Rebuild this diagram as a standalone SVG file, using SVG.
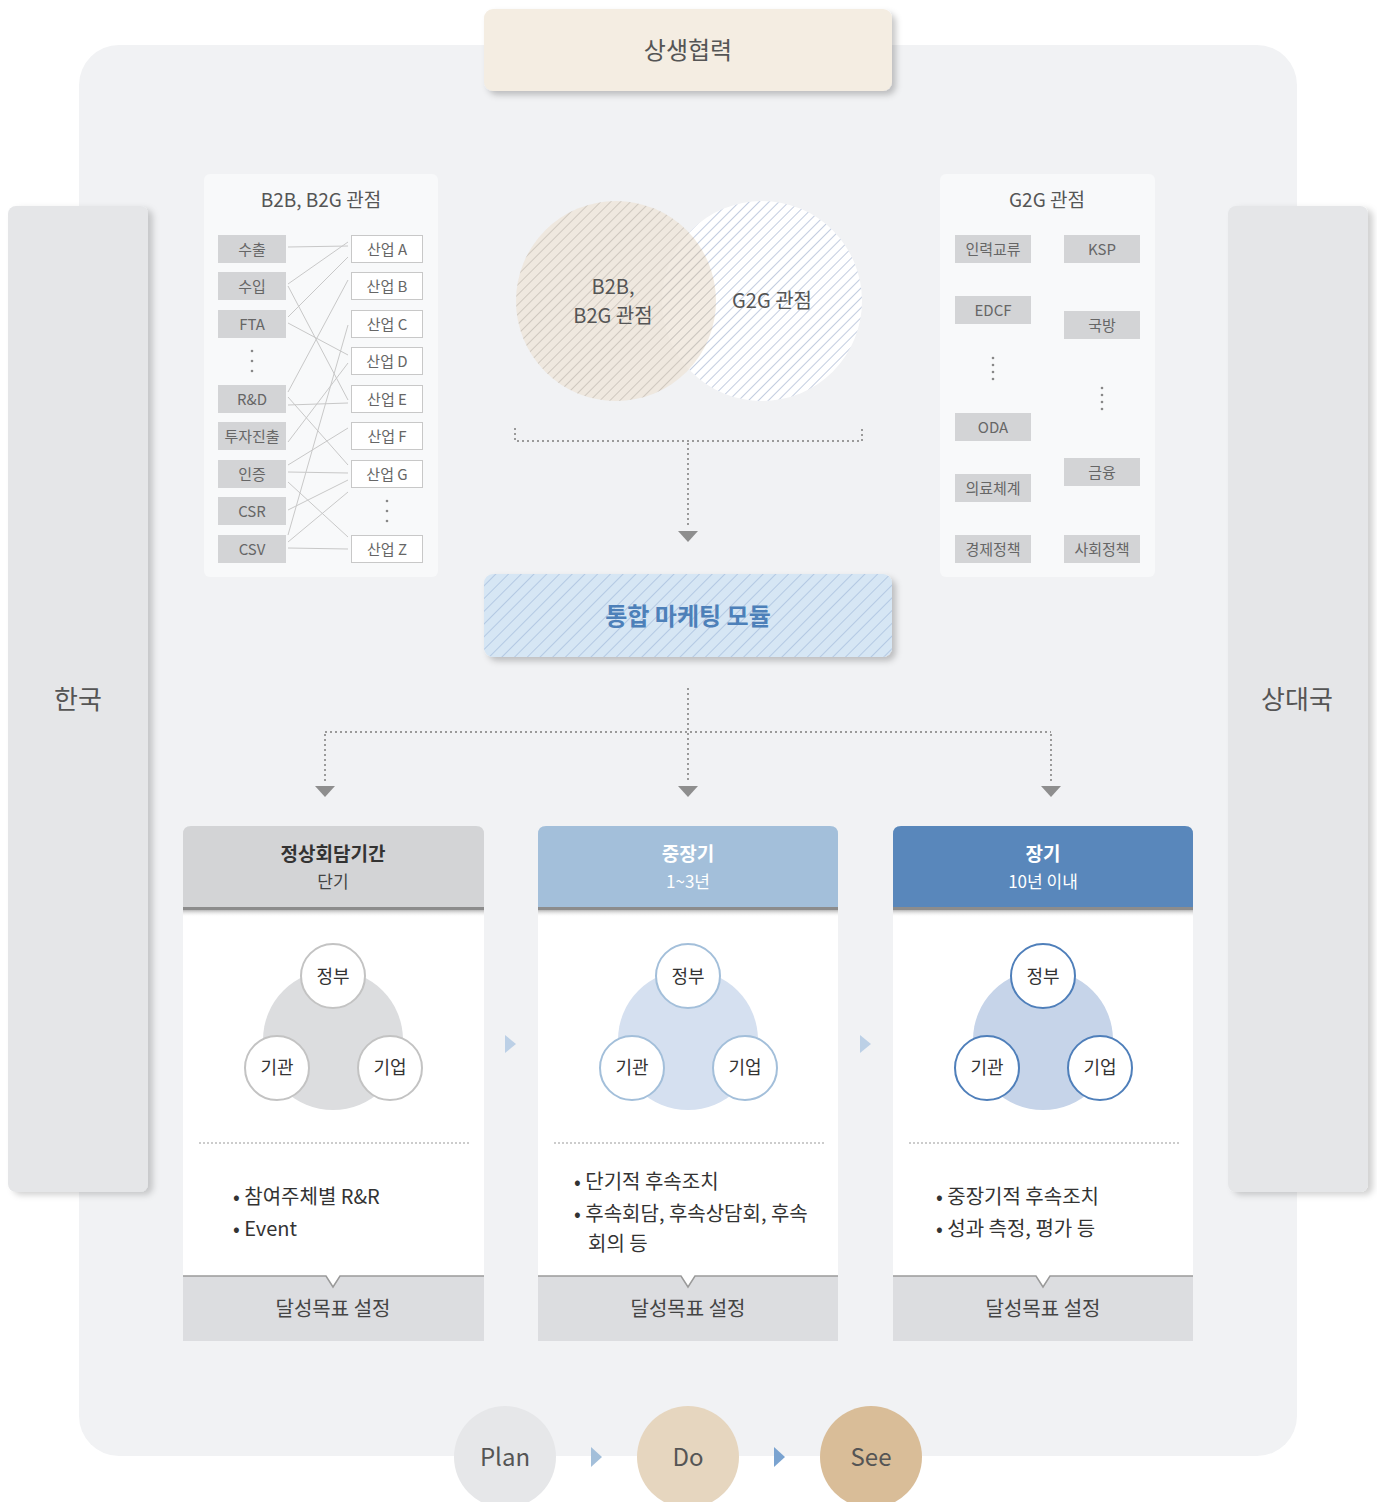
<svg xmlns="http://www.w3.org/2000/svg" width="1377" height="1502" viewBox="0 0 1377 1502">
<defs>
<style>
text{font-family:"Noto Sans CJK KR","Noto Sans",sans-serif;fill:#555;text-anchor:middle;dominant-baseline:central}
.t24{font-size:24px}
.t26{font-size:26px}
.t19{font-size:19px}
.t20{font-size:20px;fill:#333}
.it{font-size:15px;fill:#666}
.lbox{fill:#d3d4d6}
.rbox{fill:#fff;stroke:#c8c8c8;stroke-width:1}
.gbox{fill:#d3d4d6}
.ln{stroke:#c8c8c8;stroke-width:1;fill:none}
.dot{stroke:#9a9a9a;stroke-width:2;stroke-dasharray:2 3;fill:none}
.dotv{fill:#888}
.sep{stroke:#ccc;stroke-width:2;stroke-dasharray:2 2;fill:none}
.arr{fill:#8e8e8e}
.bul{font-size:20px;fill:#333;text-anchor:start}
.foot{fill:#dcdde0}
.footln{stroke:#9a9a9a;stroke-width:1.5;fill:none}
.cir{fill:#fff;stroke-width:2}
.ctext{font-size:18px;fill:#333}
</style>
<filter id="sh" x="-10%" y="-20%" width="125%" height="150%">
<feDropShadow dx="4" dy="4" stdDeviation="3" flood-color="#000" flood-opacity="0.22"/>
</filter>
<filter id="sh2" x="-10%" y="-5%" width="130%" height="115%">
<feDropShadow dx="5" dy="3" stdDeviation="3" flood-color="#000" flood-opacity="0.18"/>
</filter>
<pattern id="hatchG" width="7" height="7" patternUnits="userSpaceOnUse" patternTransform="rotate(45)">
<rect x="0" y="0" width="1" height="7" fill="#b9b3aa" fill-opacity="0.6"/>
</pattern>
<pattern id="hatchB" width="7" height="7" patternUnits="userSpaceOnUse" patternTransform="rotate(45)">
<rect x="0" y="0" width="1" height="7" fill="#c3cde0"/>
</pattern>
<pattern id="hatchM" width="9" height="9" patternUnits="userSpaceOnUse" patternTransform="rotate(45)">
<rect x="0" y="0" width="1" height="9" fill="#b4c9e3"/>
</pattern>
<linearGradient id="hsh" x1="0" y1="0" x2="0" y2="1">
<stop offset="0" stop-color="#b8b8b8"/>
<stop offset="1" stop-color="#fff" stop-opacity="0"/>
</linearGradient>
</defs>

<rect width="1377" height="1502" fill="#fff"/>
<rect id="background" x="79" y="45" width="1218" height="1411" rx="40" fill="#f1f2f4"/>

<g id="node-sangsaeng">
<rect x="484" y="9" width="408" height="82" rx="9" fill="#f4ede2" filter="url(#sh)"/>
<text class="t24" x="688" y="48">상생협력</text>
</g>

<g id="node-korea">
<rect x="8" y="206" width="140" height="986" rx="8" fill="#e5e6e8" filter="url(#sh2)"/>
<text class="t26" x="78" y="697">한국</text>
</g>
<g id="node-partner">
<rect x="1228" y="206" width="140" height="986" rx="8" fill="#e5e6e8" filter="url(#sh2)"/>
<text class="t26" x="1297" y="697">상대국</text>
</g>

<g id="node-b2b">
<rect x="204" y="174" width="234" height="403" rx="6" fill="#f8f9fa"/>
<text class="t19" x="321" y="198">B2B, B2G 관점</text>
<rect class="lbox" x="218" y="235" width="68" height="28"/><text class="it" x="252" y="248">수출</text>
<rect class="lbox" x="218" y="272" width="68" height="28"/><text class="it" x="252" y="285">수입</text>
<rect class="lbox" x="218" y="310" width="68" height="28"/><text class="it" x="252" y="323">FTA</text>
<circle class="dotv" cx="252" cy="351" r="1.3"/><circle class="dotv" cx="252" cy="361" r="1.3"/><circle class="dotv" cx="252" cy="371" r="1.3"/>
<rect class="lbox" x="218" y="385" width="68" height="28"/><text class="it" x="252" y="398">R&amp;D</text>
<rect class="lbox" x="218" y="422" width="68" height="28"/><text class="it" x="252" y="435">투자진출</text>
<rect class="lbox" x="218" y="460" width="68" height="28"/><text class="it" x="252" y="473">인증</text>
<rect class="lbox" x="218" y="497" width="68" height="28"/><text class="it" x="252" y="510">CSR</text>
<rect class="lbox" x="218" y="535" width="68" height="28"/><text class="it" x="252" y="548">CSV</text>

<rect class="rbox" x="351.5" y="235.5" width="71" height="27"/><text class="it" x="387" y="248">산업 A</text>
<rect class="rbox" x="351.5" y="272.5" width="71" height="27"/><text class="it" x="387" y="285">산업 B</text>
<rect class="rbox" x="351.5" y="310.5" width="71" height="27"/><text class="it" x="387" y="323">산업 C</text>
<rect class="rbox" x="351.5" y="347.5" width="71" height="27"/><text class="it" x="387" y="360">산업 D</text>
<rect class="rbox" x="351.5" y="385.5" width="71" height="27"/><text class="it" x="387" y="398">산업 E</text>
<rect class="rbox" x="351.5" y="422.5" width="71" height="27"/><text class="it" x="387" y="435">산업 F</text>
<rect class="rbox" x="351.5" y="460.5" width="71" height="27"/><text class="it" x="387" y="473">산업 G</text>
<circle class="dotv" cx="387" cy="501" r="1.3"/><circle class="dotv" cx="387" cy="511" r="1.3"/><circle class="dotv" cx="387" cy="521" r="1.3"/>
<rect class="rbox" x="351.5" y="535.5" width="71" height="27"/><text class="it" x="387" y="548">산업 Z</text>
</g>

<g id="connectors">
<g id="b2b-lines">
<path class="ln" d="M288 247 L348 246"/>
<path class="ln" d="M288 284 L348 242"/>
<path class="ln" d="M288 286 L348 400"/>
<path class="ln" d="M288 317 L348 257"/>
<path class="ln" d="M288 323 L348 355"/>
<path class="ln" d="M288 392 L348 280"/>
<path class="ln" d="M288 405 L348 403"/>
<path class="ln" d="M288 397 L348 465"/>
<path class="ln" d="M288 442 L348 363"/>
<path class="ln" d="M288 465 L348 428"/>
<path class="ln" d="M288 472 L348 473"/>
<path class="ln" d="M288 482 L348 537"/>
<path class="ln" d="M288 510 L348 480"/>
<path class="ln" d="M288 535 L348 325"/>
<path class="ln" d="M288 542 L348 492"/>
<path class="ln" d="M288 548 L348 549"/>
</g>
<path class="dot" d="M515 428 L515 441 L862 441 L862 428"/>
<path class="dot" d="M688 443 L688 528"/>
<path class="arr" d="M678 531 L698 531 L688 542 Z"/>
<path class="dot" d="M688 688 L688 783"/>
<path class="dot" d="M325 732 L1051 732"/>
<path class="dot" d="M325 734 L325 783"/>
<path class="dot" d="M1051 734 L1051 783"/>
<path class="arr" d="M315 786 L335 786 L325 797 Z"/>
<path class="arr" d="M678 786 L698 786 L688 797 Z"/>
<path class="arr" d="M1041 786 L1061 786 L1051 797 Z"/>
<path d="M505 1035 L516 1044 L505 1053 Z" fill="#bcd0e6"/>
<path d="M860 1035 L871 1044 L860 1053 Z" fill="#bcd0e6"/>
<path d="M591 1447 L602 1457 L591 1467 Z" fill="#a3bfda"/>
<path d="M774 1447 L785 1457 L774 1467 Z" fill="#7aa3d0"/>
</g>

<g id="node-venn">
<circle cx="762" cy="301" r="100" fill="#fff"/>
<circle cx="762" cy="301" r="100" fill="url(#hatchB)"/>
<circle cx="616" cy="301" r="100" fill="#ede4d8" fill-opacity="0.75"/>
<circle cx="616" cy="301" r="100" fill="url(#hatchG)"/>
<text class="t20" x="613" y="285" style="fill:#555">B2B,</text>
<text class="t20" x="613" y="314" style="fill:#555">B2G 관점</text>
<text class="t20" x="772" y="299" style="fill:#555">G2G 관점</text>
</g>

<g id="node-g2g">
<rect x="940" y="174" width="215" height="403" rx="6" fill="#f8f9fa"/>
<text class="t19" x="1047" y="198">G2G 관점</text>
<rect class="gbox" x="955" y="235" width="76" height="28"/><text class="it" x="993" y="248">인력교류</text>
<rect class="gbox" x="955" y="296" width="76" height="28"/><text class="it" x="993" y="309">EDCF</text>
<circle class="dotv" cx="993" cy="358" r="1.3"/><circle class="dotv" cx="993" cy="365" r="1.3"/><circle class="dotv" cx="993" cy="372" r="1.3"/><circle class="dotv" cx="993" cy="379" r="1.3"/>
<rect class="gbox" x="955" y="413" width="76" height="28"/><text class="it" x="993" y="426">ODA</text>
<rect class="gbox" x="955" y="474" width="76" height="28"/><text class="it" x="993" y="487">의료체계</text>
<rect class="gbox" x="955" y="535" width="76" height="28"/><text class="it" x="993" y="548">경제정책</text>
<rect class="gbox" x="1064" y="235" width="76" height="28"/><text class="it" x="1102" y="248">KSP</text>
<rect class="gbox" x="1064" y="311" width="76" height="28"/><text class="it" x="1102" y="324">국방</text>
<circle class="dotv" cx="1102" cy="388" r="1.3"/><circle class="dotv" cx="1102" cy="395" r="1.3"/><circle class="dotv" cx="1102" cy="402" r="1.3"/><circle class="dotv" cx="1102" cy="409" r="1.3"/>
<rect class="gbox" x="1064" y="458" width="76" height="28"/><text class="it" x="1102" y="471">금융</text>
<rect class="gbox" x="1064" y="535" width="76" height="28"/><text class="it" x="1102" y="548">사회정책</text>
</g>

<g id="node-module">
<rect x="484" y="574" width="408" height="83" rx="9" fill="#d6e6f4" filter="url(#sh)"/>
<rect x="484" y="574" width="408" height="83" rx="9" fill="url(#hatchM)"/>
<text x="688" y="614" style="font-size:24px;font-weight:700;fill:#4d80b9">통합 마케팅 모듈</text>
</g>

<g id="node-short">
<path d="M183 908 L183 834 Q183 826 191 826 L476 826 Q484 826 484 834 L484 908 Z" fill="#d3d4d6"/>
<rect x="183" y="908" width="301" height="368" fill="#fff"/>
<rect x="183" y="907" width="301" height="3" fill="#8c8c8c"/>
<rect x="183" y="910" width="301" height="7" fill="url(#hsh)"/>
<text x="333" y="852" style="font-size:19px;font-weight:700;fill:#333">정상회담기간</text>
<text x="333" y="880" style="font-size:17px;fill:#444">단기</text>
<circle cx="333" cy="1040" r="70" fill="#dcdddf"/>
<circle class="cir" cx="333" cy="976" r="32" stroke="#c3c3c3"/>
<circle class="cir" cx="277" cy="1068" r="32" stroke="#c3c3c3"/>
<circle class="cir" cx="390" cy="1068" r="32" stroke="#c3c3c3"/>
<text class="ctext" x="333" y="975">정부</text>
<text class="ctext" x="277" y="1066">기관</text>
<text class="ctext" x="390" y="1066">기업</text>
<path class="sep" d="M199 1143 L469 1143"/>
<text class="bul" x="233" y="1195">• 참여주체별 R&amp;R</text>
<text class="bul" x="233" y="1227">• Event</text>
<rect class="foot" x="183" y="1276" width="301" height="65"/>
<path d="M326 1276 L333 1287 L340 1276 Z" fill="#fff"/>
<path class="footln" d="M183 1276 L326 1276 L333 1287 L340 1276 L484 1276"/>
<text x="333" y="1307" style="font-size:20px;fill:#444">달성목표 설정</text>
</g>

<g id="node-mid">
<path d="M538 908 L538 834 Q538 826 546 826 L830 826 Q838 826 838 834 L838 908 Z" fill="#a3bfda"/>
<rect x="538" y="908" width="300" height="368" fill="#fff"/>
<rect x="538" y="907" width="300" height="3" fill="#8c8c8c"/>
<rect x="538" y="910" width="300" height="7" fill="url(#hsh)"/>
<text x="688" y="852" style="font-size:19px;font-weight:700;fill:#fff">중장기</text>
<text x="688" y="880" style="font-size:17px;fill:#fff">1~3년</text>
<circle cx="688" cy="1040" r="70" fill="#d5e0f0"/>
<circle class="cir" cx="688" cy="976" r="32" stroke="#a3bfda"/>
<circle class="cir" cx="632" cy="1068" r="32" stroke="#a3bfda"/>
<circle class="cir" cx="745" cy="1068" r="32" stroke="#a3bfda"/>
<text class="ctext" x="688" y="975">정부</text>
<text class="ctext" x="632" y="1066">기관</text>
<text class="ctext" x="745" y="1066">기업</text>
<path class="sep" d="M554 1143 L824 1143"/>
<text class="bul" x="574" y="1180">• 단기적 후속조치</text>
<text class="bul" x="574" y="1212">• 후속회담, 후속상담회, 후속</text>
<text class="bul" x="588" y="1242">회의 등</text>
<rect class="foot" x="538" y="1276" width="300" height="65"/>
<path d="M681 1276 L688 1287 L695 1276 Z" fill="#fff"/>
<path class="footln" d="M538 1276 L681 1276 L688 1287 L695 1276 L838 1276"/>
<text x="688" y="1307" style="font-size:20px;fill:#444">달성목표 설정</text>
</g>

<g id="node-long">
<path d="M893 908 L893 834 Q893 826 901 826 L1185 826 Q1193 826 1193 834 L1193 908 Z" fill="#5987bb"/>
<rect x="893" y="908" width="300" height="368" fill="#fff"/>
<rect x="893" y="907" width="300" height="3" fill="#8c8c8c"/>
<rect x="893" y="910" width="300" height="7" fill="url(#hsh)"/>
<text x="1043" y="852" style="font-size:19px;font-weight:700;fill:#fff">장기</text>
<text x="1043" y="880" style="font-size:17px;fill:#fff">10년 이내</text>
<circle cx="1043" cy="1040" r="70" fill="#c6d4e9"/>
<circle class="cir" cx="1043" cy="976" r="32" stroke="#4f7fba"/>
<circle class="cir" cx="987" cy="1068" r="32" stroke="#4f7fba"/>
<circle class="cir" cx="1100" cy="1068" r="32" stroke="#4f7fba"/>
<text class="ctext" x="1043" y="975">정부</text>
<text class="ctext" x="987" y="1066">기관</text>
<text class="ctext" x="1100" y="1066">기업</text>
<path class="sep" d="M909 1143 L1179 1143"/>
<text class="bul" x="936" y="1195">• 중장기적 후속조치</text>
<text class="bul" x="936" y="1227">• 성과 측정, 평가 등</text>
<rect class="foot" x="893" y="1276" width="300" height="65"/>
<path d="M1036 1276 L1043 1287 L1050 1276 Z" fill="#fff"/>
<path class="footln" d="M893 1276 L1036 1276 L1043 1287 L1050 1276 L1193 1276"/>
<text x="1043" y="1307" style="font-size:20px;fill:#444">달성목표 설정</text>
</g>

<g id="node-plan">
<circle cx="505" cy="1457" r="51" fill="#e6e7e9"/>
<text class="t24" x="505" y="1455">Plan</text>
</g>
<g id="node-do">
<circle cx="688" cy="1457" r="51" fill="#e6d6bf"/>
<text class="t24" x="688" y="1455">Do</text>
</g>
<g id="node-see">
<circle cx="871" cy="1457" r="51" fill="#d9bd98"/>
<text class="t24" x="871" y="1455">See</text>
</g>
</svg>
